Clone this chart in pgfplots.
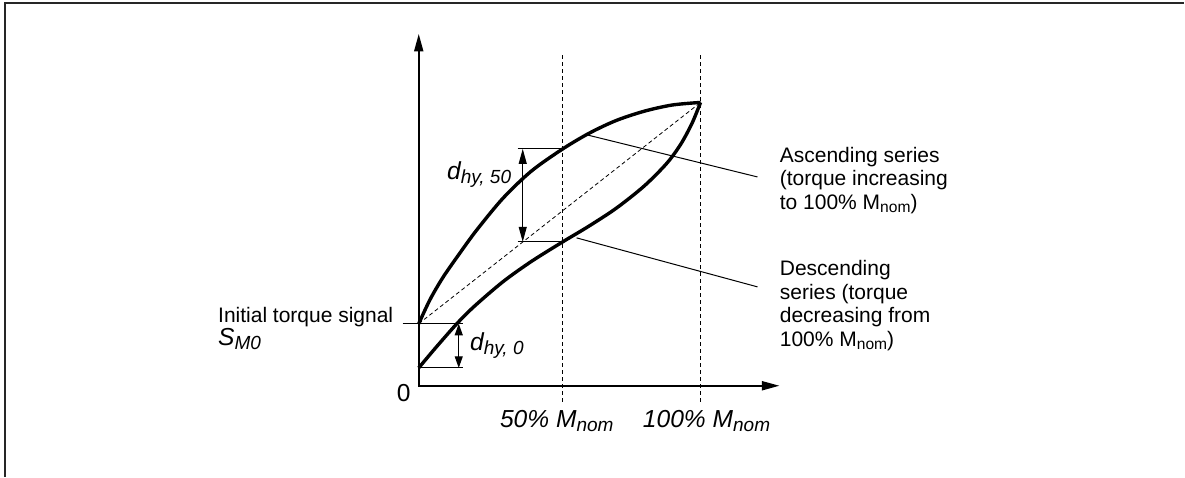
\documentclass[border=0pt]{standalone}
\usepackage{pgfplots}
\pgfplotsset{compat=1.18}
\usetikzlibrary{arrows.meta}
\usepackage{fontspec}
\setmainfont{Liberation Sans}
\tikzset{lbl/.style={font=\fontsize{10.5}{12}\selectfont, inner sep=0pt},
         big/.style={font=\fontsize{12.3}{14}\selectfont\itshape, inner sep=0pt}}
\newcommand{\subn}[1]{\raisebox{-1.6pt}{\fontsize{7.8}{9}\selectfont #1}}
\newcommand{\subb}[1]{\raisebox{-1.8pt}{\fontsize{9.5}{11}\selectfont\itshape #1}}
\begin{document}
\begin{tikzpicture}
\begin{axis}[
  scale only axis, width=592.5pt, height=238.5pt,
  xmin=-148.58, xmax=271.63, ymin=-32.10, ymax=136.16,
  hide axis, clip=false,
]
% bounding box
\path (axis cs:-148.58,-32.10) rectangle (axis cs:271.63,136.16);
% frame (top and left)
\addplot[line width=0.75pt, black!85] coordinates {(-146.8,-32.10) (-146.8,135.1) (271.63,135.1)};
% vertical dashed lines
\addplot[line width=0.5pt, dash pattern=on 2pt off 1.5pt] coordinates {(51.1,-5.6) (51.1,117.5)};
\addplot[line width=0.5pt, dash pattern=on 2pt off 1.5pt] coordinates {(100,-5.6) (100,117.5)};
% axes
\addplot[line width=1pt, line join=miter, {Triangle[length=8.8pt,width=4.5pt]}-{Triangle[length=8.8pt,width=4.5pt]}] coordinates {(0,124.2) (0,0) (128,0)};
% diagonal dashed
\addplot[line width=0.4pt, dash pattern=on 2pt off 1.4pt] coordinates {(0,21.9) (100,100)};
% ascending curve
\addplot[line width=1.7pt, smooth, tension=0.5] coordinates {
(0,21.9) (4,30.4) (8.5,38.1) (14,46.0) (20.6,55.0) (30,66.3) (40,75.8) (51.1,83.6) (60.6,89.2) (70,93.6) (80,96.9) (90,99.1) (100,100)};
% descending curve
\addplot[line width=1.7pt, smooth, tension=0.5] coordinates {
(0,6.3) (6,13.4) (13.8,22.2) (20,28.3) (30,36.8) (40,43.9) (51.1,50.8) (60,56.1) (70,62.6) (80,70.5) (88,78.5) (93,85.3) (97,92.7) (100,100)};
% dimension d_hy,50
\addplot[line width=0.5pt] coordinates {(35.1,83.6) (51.1,83.6)};
\addplot[line width=0.5pt] coordinates {(35.1,50.8) (51.1,50.8)};
\addplot[line width=0.5pt, {Triangle[length=7.5pt,width=4pt]}-{Triangle[length=7.5pt,width=4pt]}] coordinates {(36.9,50.8) (36.9,83.6)};
% dimension d_hy,0
\addplot[line width=0.5pt] coordinates {(-5.7,21.9) (15.6,21.9)};
\addplot[line width=0.5pt] coordinates {(0,6.3) (15.6,6.3)};
\addplot[line width=0.5pt, {Triangle[length=5.8pt,width=4pt]}-{Triangle[length=5.8pt,width=4pt]}] coordinates {(14.2,6.3) (14.2,21.9)};
% leader lines
\addplot[line width=0.5pt] coordinates {(59.9,88.5) (120.2,73.7)};
\addplot[line width=0.5pt] coordinates {(56.0,52.2) (120.2,34.9)};
% texts
\node[lbl, anchor=base west] at (axis cs:128,78.84) {Ascending series};
\node[lbl, anchor=base west] at (axis cs:128,70.55) {(torque increasing};
\node[lbl, anchor=base west] at (axis cs:128,62.26) {to 100\% M\subn{nom})};
\node[lbl, anchor=base west] at (axis cs:128,38.80) {Descending};
\node[lbl, anchor=base west] at (axis cs:128,30.51) {series (torque};
\node[lbl, anchor=base west] at (axis cs:128,22.22) {decreasing from};
\node[lbl, anchor=base west] at (axis cs:128,13.93) {100\% M\subn{nom})};
\node[lbl, anchor=base west] at (axis cs:-71.3,22.22) {Initial torque signal};
\node[big, anchor=base west] at (axis cs:-71.3,14.1) {S\subb{M0}};
\node[big, font=\fontsize{12.3}{14}\selectfont, anchor=base] at (axis cs:-5.32,-5.47) {0};
\node[big, anchor=base west] at (axis cs:28.72,-14.8) {50\% M\subb{nom}};
\node[big, anchor=base west] at (axis cs:79.43,-14.8) {100\% M\subb{nom}};
\node[big, anchor=base west] at (axis cs:9.93,72.66) {d\subb{hy, 50}};
\node[big, anchor=base west] at (axis cs:18.1,12.35) {d\subb{hy, 0}};
\end{axis}
\end{tikzpicture}
\end{document}
